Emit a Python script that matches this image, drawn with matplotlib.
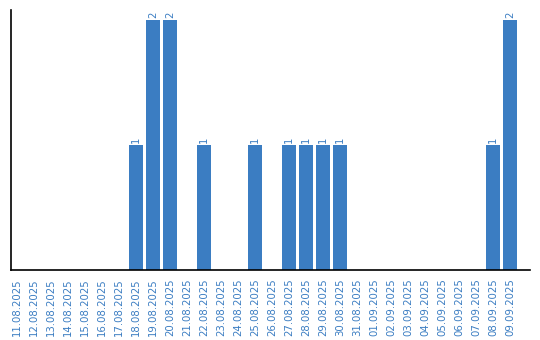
import matplotlib
matplotlib.use("Agg")
import matplotlib.pyplot as plt

dates = ["11.08.2025", "12.08.2025", "13.08.2025", "14.08.2025", "15.08.2025",
         "16.08.2025", "17.08.2025", "18.08.2025", "19.08.2025", "20.08.2025",
         "21.08.2025", "22.08.2025", "23.08.2025", "24.08.2025", "25.08.2025",
         "26.08.2025", "27.08.2025", "28.08.2025", "29.08.2025", "30.08.2025",
         "31.08.2025", "01.09.2025", "02.09.2025", "03.09.2025", "04.09.2025",
         "05.09.2025", "06.09.2025", "07.09.2025", "08.09.2025", "09.09.2025"]
counts = [0, 0, 0, 0, 0, 0, 0, 1, 2, 2,
          0, 1, 0, 0, 1, 0, 1, 1, 1, 1,
          0, 0, 0, 0, 0, 0, 0, 0, 1, 2]

BLUE = "#3b7dc2"

fig = plt.figure(figsize=(5.4, 3.4), dpi=100)
ax = fig.add_axes([11/540, 70/340, 519/540, 260/340])

x = list(range(len(dates)))
bars = ax.bar(x, counts, width=0.82, color=BLUE)
for xi, v in zip(x, counts):
    if v > 0:
        ax.text(xi, v + 0.02, str(v), rotation=90, ha="center", va="bottom",
                color=BLUE, fontsize=7.3)

ax.set_xlim(-0.35, 30.18)
ax.set_ylim(0, 2.08)
ax.set_xticks(x)
ax.set_xticklabels(dates, rotation=90, color=BLUE, fontsize=7.3)
ax.tick_params(axis="x", length=0, pad=6)
ax.set_yticks([])
for s in ["top", "right"]:
    ax.spines[s].set_visible(False)
for s in ["left", "bottom"]:
    ax.spines[s].set_color("black")
    ax.spines[s].set_linewidth(1.2)

fig.savefig("out.png", dpi=100)
